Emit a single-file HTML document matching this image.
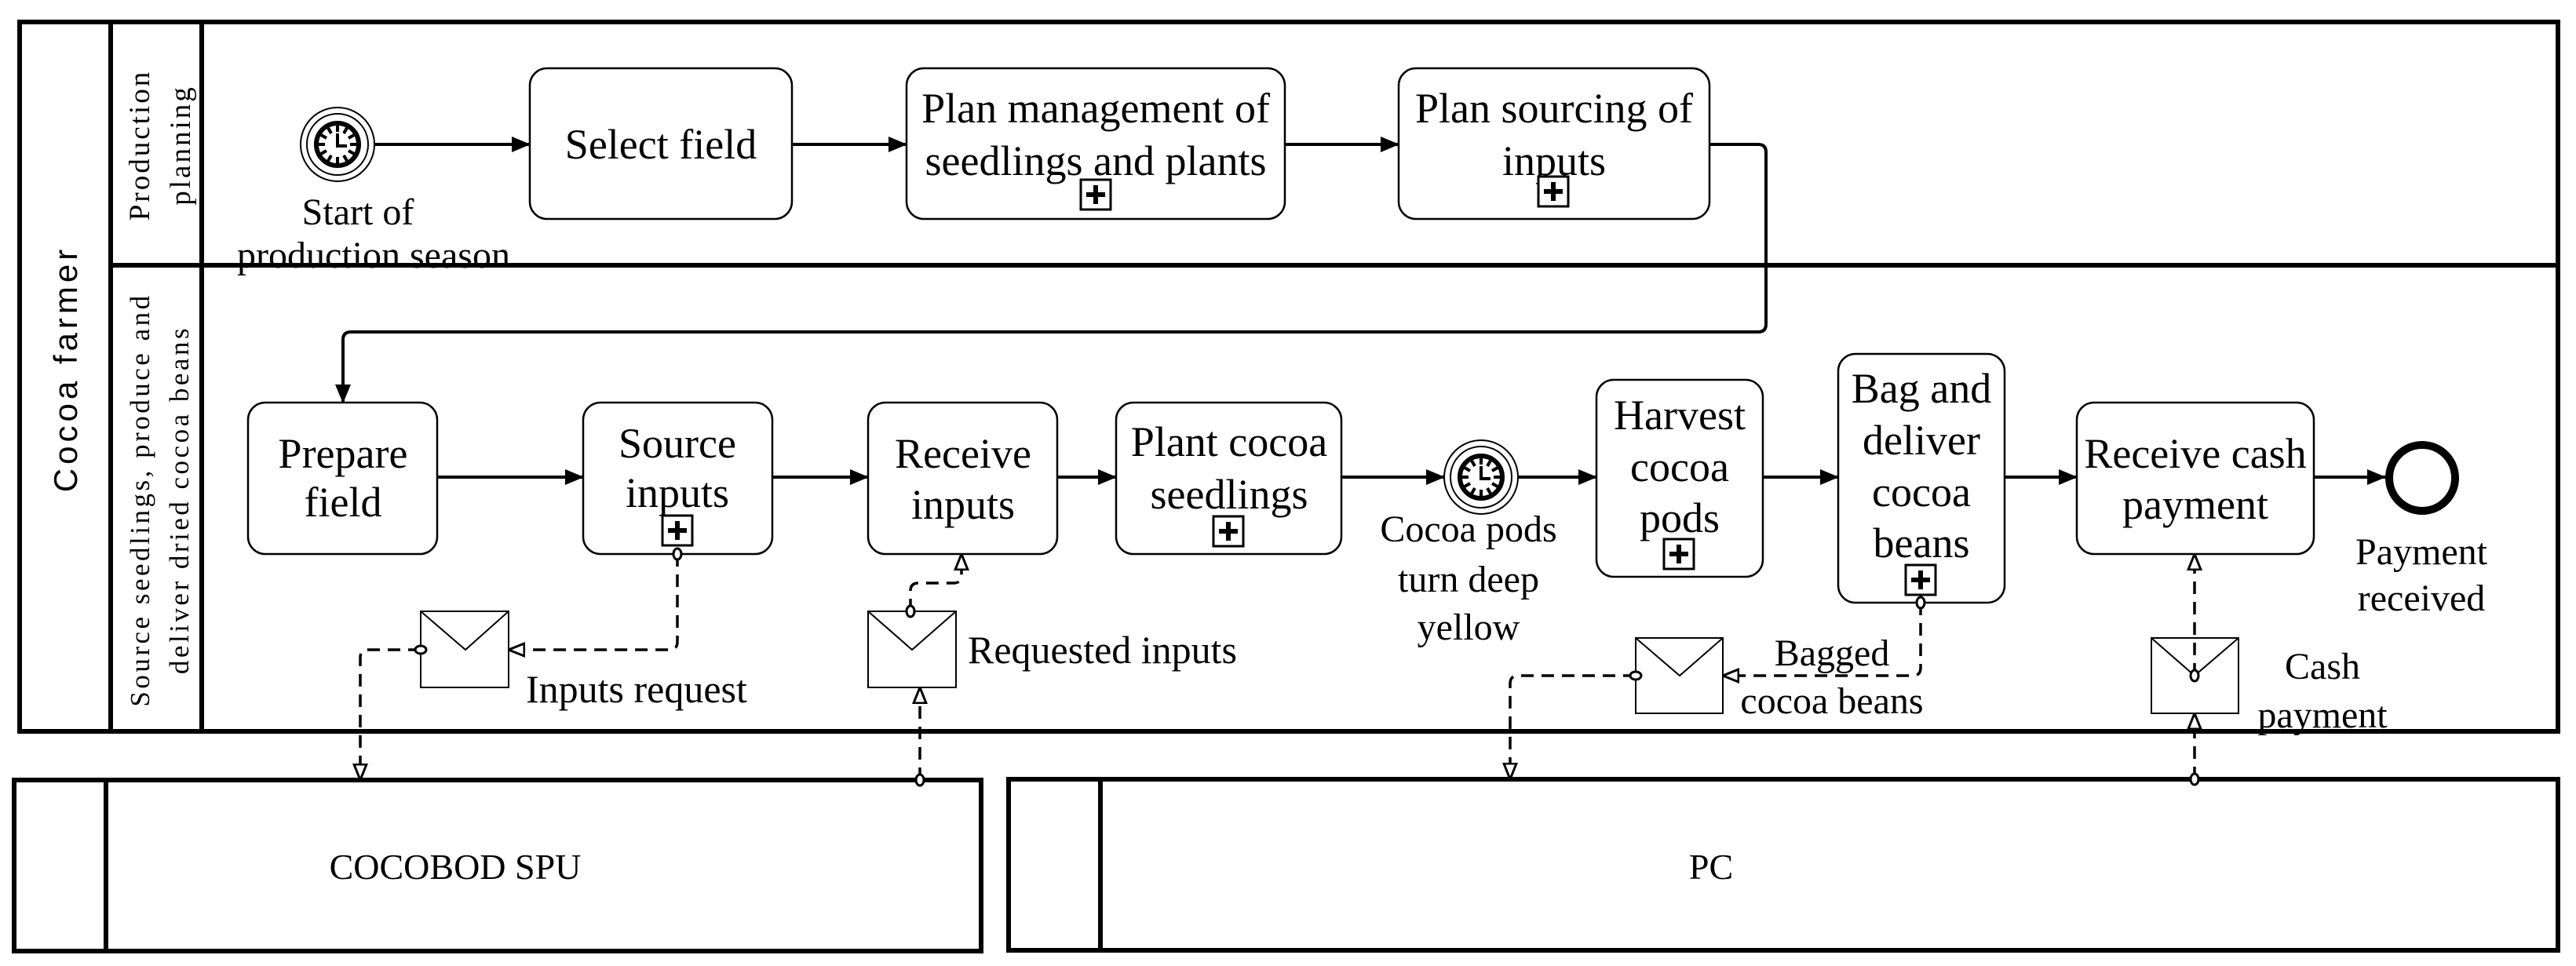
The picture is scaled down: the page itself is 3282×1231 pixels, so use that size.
<!DOCTYPE html>
<html><head><meta charset="utf-8"><style>
html,body{margin:0;padding:0;background:#fff;}
svg{display:block;}
text{font-family:"Liberation Serif",serif;font-size:54px;fill:#000;}
</style></head><body>
<svg width="3282" height="1231" viewBox="0 0 3282 1231" xmlns="http://www.w3.org/2000/svg">
<defs>
<marker id="a" markerWidth="24" markerHeight="20" refX="23" refY="10" orient="auto" markerUnits="userSpaceOnUse"><path d="M0,0 L24,10 L0,20 Z" fill="#000"/></marker>
<marker id="o" markerWidth="22" markerHeight="20" refX="21" refY="10" orient="auto" markerUnits="userSpaceOnUse"><path d="M1,2 L21,10 L1,18 Z" fill="#fff" stroke="#000" stroke-width="3"/></marker>
<marker id="c" markerWidth="18" markerHeight="18" refX="9" refY="9" orient="auto" markerUnits="userSpaceOnUse"><ellipse cx="9" cy="9" rx="5" ry="7" transform="rotate(90 9 9)" fill="#fff" stroke="#000" stroke-width="3"/></marker>
<g id="clk">
<circle r="47" fill="#fff" stroke="#000" stroke-width="2"/>
<circle r="39" fill="none" stroke="#000" stroke-width="2"/>
<circle r="27" fill="#fff" stroke="#000" stroke-width="6"/>
<g stroke="#000" stroke-width="4">
<line x1="0" y1="-24" x2="0" y2="-16"/><line x1="0" y1="24" x2="0" y2="16"/>
<line x1="-24" y1="0" x2="-16" y2="0"/><line x1="24" y1="0" x2="16" y2="0"/>
<line x1="12" y1="-21" x2="8" y2="-14"/><line x1="-12" y1="-21" x2="-8" y2="-14"/>
<line x1="12" y1="21" x2="8" y2="14"/><line x1="-12" y1="21" x2="-8" y2="14"/>
<line x1="21" y1="12" x2="14" y2="8"/><line x1="-21" y1="12" x2="-14" y2="8"/>
<line x1="21" y1="-12" x2="14" y2="-8"/><line x1="-21" y1="-12" x2="-14" y2="-8"/>
<polyline points="0,-14 0,2 12,2" fill="none"/>
</g>
</g>
<g id="plus"><rect x="0" y="0" width="38" height="38" fill="#fff" stroke="#000" stroke-width="3"/><rect x="16" y="7" width="6" height="24" fill="#000"/><rect x="7" y="16" width="24" height="6" fill="#000"/></g>
</defs>

<g fill="none" stroke="#000" stroke-width="6">
<rect x="25" y="28" width="3234" height="904"/>
<line x1="141" y1="28" x2="141" y2="932"/>
<line x1="257" y1="28" x2="257" y2="932"/>
<line x1="141" y1="338" x2="3259" y2="338"/>
</g>
<text transform="translate(98,470) rotate(-90)" text-anchor="middle" style="font-family:'Liberation Sans',sans-serif;font-size:42px;letter-spacing:5px">Cocoa farmer</text>
<text transform="translate(190,185) rotate(-90)" text-anchor="middle" style="font-size:37px;letter-spacing:3px">Production</text>
<text transform="translate(242,185) rotate(-90)" text-anchor="middle" style="font-size:37px;letter-spacing:3px">planning</text>
<text transform="translate(190,637) rotate(-90)" text-anchor="middle" style="font-size:35px;letter-spacing:3.5px">Source seedlings, produce and</text>
<text transform="translate(240,637) rotate(-90)" text-anchor="middle" style="font-size:35px;letter-spacing:3.5px">deliver dried cocoa beans</text>

<g fill="none" stroke="#000" stroke-width="6">
<rect x="18" y="994" width="1232" height="218"/>
<line x1="135" y1="994" x2="135" y2="1212"/>
<rect x="1285" y="993" width="1974" height="218"/>
<line x1="1402" y1="993" x2="1402" y2="1211"/>
</g>
<text x="580" y="1120" text-anchor="middle" style="font-size:46px">COCOBOD SPU</text>
<text x="2180" y="1120" text-anchor="middle" style="font-size:46px">PC</text>

<g fill="#fff" stroke="#000" stroke-width="2.5">
<rect x="675" y="87" width="334" height="192" rx="22"/>
<rect x="1155" y="87" width="482" height="192" rx="22"/>
<rect x="1782" y="87" width="396" height="192" rx="22"/>
<rect x="316" y="513" width="241" height="193" rx="22"/>
<rect x="743" y="513" width="241" height="193" rx="22"/>
<rect x="1106" y="513" width="241" height="193" rx="22"/>
<rect x="1422" y="513" width="287" height="193" rx="22"/>
<rect x="2034" y="484" width="212" height="251" rx="22"/>
<rect x="2342" y="451" width="212" height="317" rx="22"/>
<rect x="2646" y="513" width="302" height="193" rx="22"/>
</g>
<text x="842" y="202" text-anchor="middle">Select field</text>
<text x="1396" y="156" text-anchor="middle">Plan management of</text>
<text x="1396" y="223" text-anchor="middle">seedlings and plants</text>
<text x="1980" y="156" text-anchor="middle">Plan sourcing of</text>
<text x="1980" y="223" text-anchor="middle">inputs</text>
<text x="437" y="596" text-anchor="middle">Prepare</text>
<text x="437" y="658" text-anchor="middle">field</text>
<text x="863" y="583" text-anchor="middle">Source</text>
<text x="863" y="646" text-anchor="middle">inputs</text>
<text x="1227" y="596" text-anchor="middle">Receive</text>
<text x="1227" y="661" text-anchor="middle">inputs</text>
<text x="1566" y="581" text-anchor="middle">Plant cocoa</text>
<text x="1566" y="648" text-anchor="middle">seedlings</text>
<text x="2140" y="547" text-anchor="middle">Harvest</text>
<text x="2140" y="613" text-anchor="middle">cocoa</text>
<text x="2140" y="678" text-anchor="middle">pods</text>
<text x="2448" y="513" text-anchor="middle">Bag and</text>
<text x="2448" y="579" text-anchor="middle">deliver</text>
<text x="2448" y="645" text-anchor="middle">cocoa</text>
<text x="2448" y="710" text-anchor="middle">beans</text>
<text x="2797" y="596" text-anchor="middle">Receive cash</text>
<text x="2797" y="661" text-anchor="middle">payment</text>

<use href="#plus" x="1377" y="229"/>
<use href="#plus" x="1960" y="225"/>
<use href="#plus" x="844" y="657"/>
<use href="#plus" x="1546" y="658"/>
<use href="#plus" x="2120" y="687"/>
<use href="#plus" x="2428" y="720"/>

<use href="#clk" x="430" y="184"/>
<text x="456" y="286" text-anchor="middle" style="font-size:48px">Start of</text>
<text x="476" y="341" text-anchor="middle" style="font-size:48px">production season</text>
<use href="#clk" x="1887" y="608"/>
<text x="1871" y="690" text-anchor="middle" style="font-size:48px">Cocoa pods</text>
<text x="1871" y="754" text-anchor="middle" style="font-size:48px">turn deep</text>
<text x="1871" y="815" text-anchor="middle" style="font-size:48px">yellow</text>
<circle cx="3086" cy="609" r="42" fill="#fff" stroke="#000" stroke-width="10"/>
<text x="3085" y="719" text-anchor="middle" style="font-size:48px">Payment</text>
<text x="3085" y="778" text-anchor="middle" style="font-size:48px">received</text>

<g stroke="#000" stroke-width="4" fill="none" marker-end="url(#a)">
<line x1="477" y1="184" x2="675" y2="184"/>
<line x1="1009" y1="184" x2="1155" y2="184"/>
<line x1="1637" y1="184" x2="1782" y2="184"/>
<path d="M2178,184 H2240 Q2250,184 2250,194 V413 Q2250,423 2240,423 H447 Q437,423 437,433 V513"/>
<line x1="557" y1="608" x2="743" y2="608"/>
<line x1="984" y1="608" x2="1106" y2="608"/>
<line x1="1347" y1="608" x2="1422" y2="608"/>
<line x1="1709" y1="608" x2="1840" y2="608"/>
<line x1="1934" y1="608" x2="2034" y2="608"/>
<line x1="2246" y1="608" x2="2342" y2="608"/>
<line x1="2554" y1="608" x2="2646" y2="608"/>
<line x1="2948" y1="608" x2="3039" y2="608"/>
</g>

<g fill="#fff" stroke="#000" stroke-width="2">
<rect x="536" y="779" width="112" height="97"/><polyline points="536,779 593,828 648,779" fill="none"/>
<rect x="1106" y="779" width="112" height="97"/><polyline points="1106,779 1162,828 1218,779" fill="none"/>
<rect x="2084" y="813" width="111" height="96"/><polyline points="2084,813 2140,861 2195,813" fill="none"/>
<rect x="2741" y="813" width="111" height="96"/><polyline points="2741,813 2796,861 2852,813" fill="none"/>
</g>
<text x="670" y="895" style="font-size:50px">Inputs request</text>
<text x="1233" y="845" style="font-size:50px">Requested inputs</text>
<text x="2334" y="848" text-anchor="middle" style="font-size:48px">Bagged</text>
<text x="2334" y="909" text-anchor="middle" style="font-size:48px">cocoa beans</text>
<text x="2959" y="865" text-anchor="middle" style="font-size:48px">Cash</text>
<text x="2959" y="927" text-anchor="middle" style="font-size:48px">payment</text>

<g stroke="#000" stroke-width="3.5" fill="none" stroke-dasharray="16,10" marker-start="url(#c)" marker-end="url(#o)">
<path d="M863,706 V818 Q863,828 853,828 H648"/>
<path d="M536,828 H469 Q459,828 459,838 V994"/>
<path d="M1172,994 V876"/>
<path d="M1160,779 V753 Q1160,743 1170,743 H1215 Q1225,743 1225,733 V706"/>
<path d="M2447,768 V851 Q2447,861 2437,861 H2195"/>
<path d="M2084,861 H1934 Q1924,861 1924,871 V993"/>
<path d="M2796,993 V909"/>
<path d="M2796,861 V706"/>
</g>
</svg>
</body></html>
